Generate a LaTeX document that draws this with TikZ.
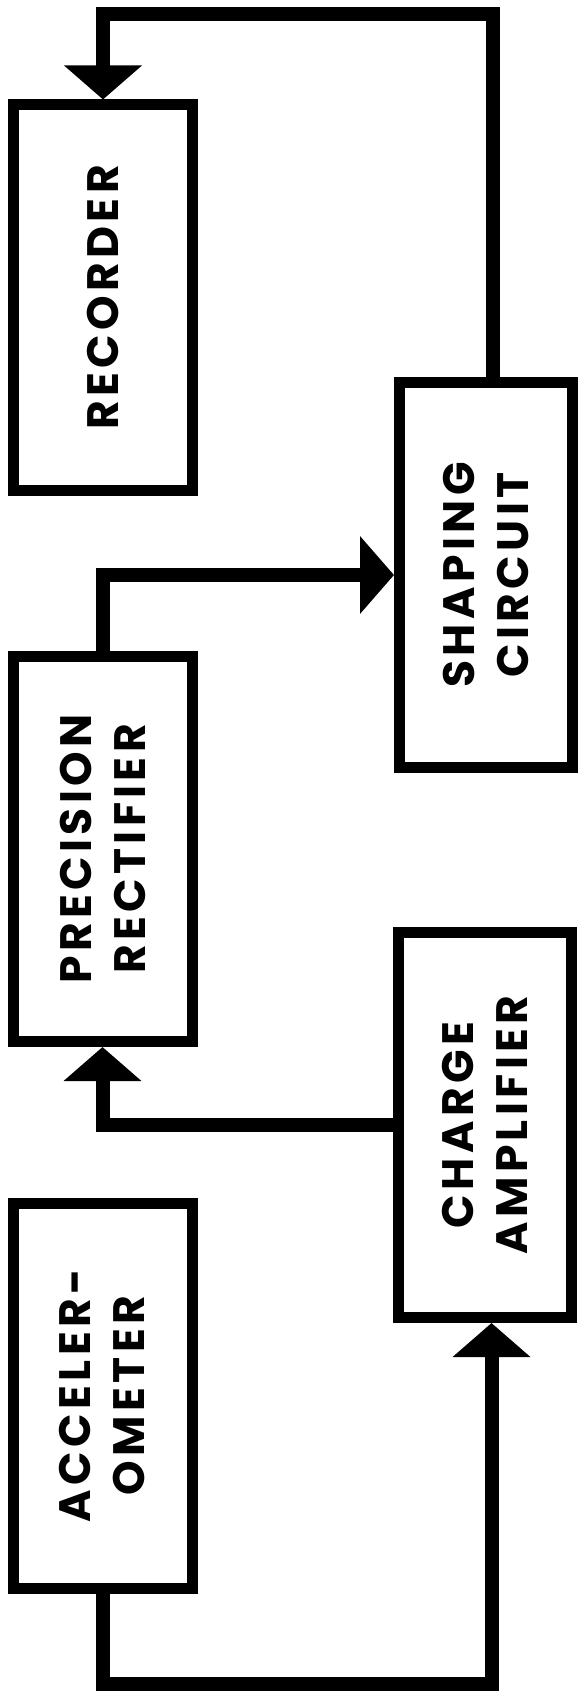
\documentclass[tikz,border=0pt]{standalone}
\usepackage{fontspec}
\setmainfont{Poppins}
\newfontfamily\lblfont{Poppins}[LetterSpace=10]
\usetikzlibrary{arrows.meta}
\begin{document}
\begin{tikzpicture}[x=1pt,y=-1pt,
  lbox/.style={draw, line width=11pt, rectangle, inner sep=0pt, minimum width=179pt, minimum height=385pt},
  rbox/.style={draw, line width=11pt, rectangle, inner sep=0pt, minimum width=173pt, minimum height=385pt},
  lbl/.style={rotate=90, align=center, inner sep=0pt, font=\lblfont\bfseries\fontsize{44pt}{54pt}\selectfont},
  conn/.style={line width=14pt, line join=miter},
  arr/.style={conn, -{Triangle[length=34pt,width=76pt]}}]
\useasboundingbox (0,0) rectangle (580,1691);
\fill[white] (0,0) rectangle (580,1691);
% boxes
\node[lbox] (rec) at (103,297.5) {};
\node[lbox] (pre) at (102.5,849) {};
\node[lbox] (acc) at (102.5,1395.5) {};
\node[rbox] (shp) at (486,575) {};
\node[rbox] (chg) at (485,1125) {};
% labels
\node[lbl] (recT) at (rec.center) {RECORDER};
\node[lbl] (preT) at (pre.center) {PRECISION\\RECTIFIER};
\node[lbl] (accT) at (acc.center) {ACCELER-\\OMETER};
\node[lbl] (shpT) at (shp.center) {SHAPING\\CIRCUIT};
\node[lbl] (chgT) at (chg.center) {CHARGE\\AMPLIFIER};
% connectors
\draw[arr] (acc.south) -- ++(0,90) -| ([xshift=6.5pt]chg.south);
\draw[arr] (chg.west) -| (pre.south);
\draw[arr] (pre.north) |- (shp.west);
\draw[arr] ([xshift=7pt]shp.north) -- ++(0,-363) -| (rec.north);
\end{tikzpicture}
\end{document}
